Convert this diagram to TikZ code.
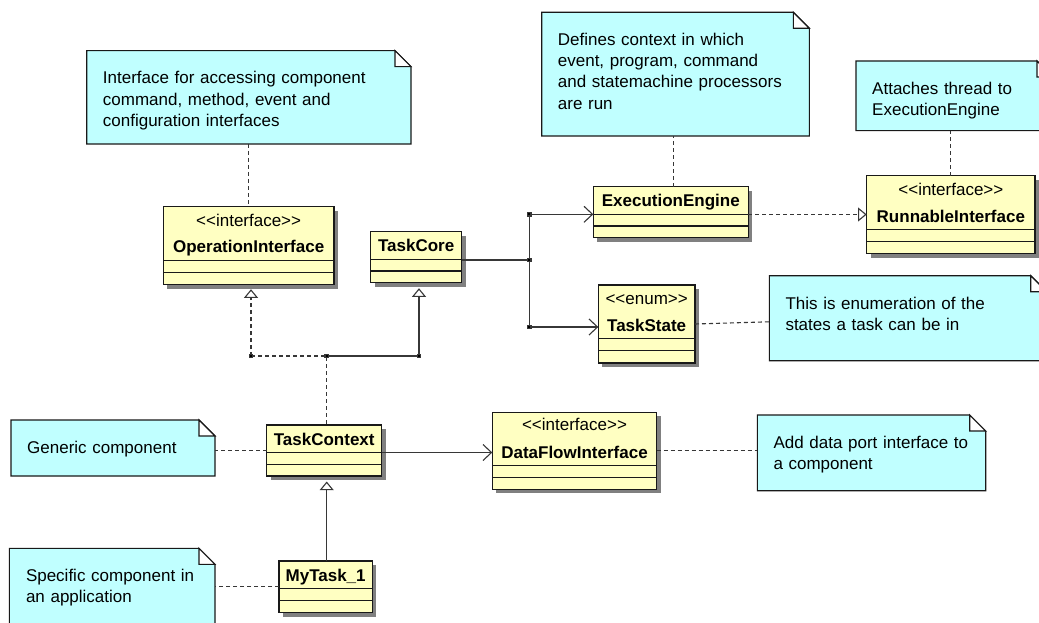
\documentclass[tikz,border=0pt]{standalone}
\usepackage{fontspec}
\setmainfont{Liberation Sans}
\usetikzlibrary{arrows.meta,calc,shadows}

\definecolor{classfill}{RGB}{255,255,194}
\definecolor{notefill}{RGB}{192,255,255}
\definecolor{shade}{RGB}{128,128,128}
\definecolor{ink}{RGB}{25,25,25}
\definecolor{wire}{RGB}{55,55,55}

\tikzset{
  umlclass/.style={draw=ink, line width=1.2pt, fill=classfill, inner sep=0pt,
    outer sep=0pt, anchor=north west,
    drop shadow={shadow xshift=4pt, shadow yshift=-4pt, fill=shade, opacity=1}},
  notebase/.style={inner sep=0pt, outer sep=0pt, anchor=north west},
  notetext/.style={anchor=base west, inner sep=0pt, text width=320pt, align=left,
    font=\fontsize{17}{21.2}\selectfont},
  stereo/.style={anchor=base, inner sep=0pt, font=\fontsize{17}{20}\selectfont},
  cname/.style={anchor=base, inner sep=0pt, font=\bfseries\fontsize{17}{20}\selectfont},
  wire/.style={draw=wire, line width=1.1pt},
  notelink/.style={wire, dash pattern=on 4pt off 3pt},
  gentip/.style={-{Triangle[open, length=8.7pt, width=14pt, fill=white]}},
  navtip/.style={-{Straight Barb[length=8.5pt, width=16pt]}},
}

% dog-eared note drawn over an empty frame node
\newcommand\dogear[1]{%
  \filldraw[fill=notefill, draw=ink, line width=1.1pt]
    (#1.north west) -- ($(#1.north east)+(-16,0)$) -- ($(#1.north east)+(0,16)$)
    -- (#1.south east) -- (#1.south west) -- cycle;
  \filldraw[fill=white, draw=ink, line width=1.1pt]
    ($(#1.north east)+(-16,0)$) -- ($(#1.north east)+(-16,16)$)
    -- ($(#1.north east)+(0,16)$) -- cycle;}

% attribute / operation compartment rules of a class box
\newcommand\compartments[3]{%
  \draw[ink, line width=1.2pt] ($(#1.north west)+(0,#2)$) -- ($(#1.north east)+(0,#2)$);
  \draw[ink, line width=1.2pt] ($(#1.north west)+(0,#3)$) -- ($(#1.north east)+(0,#3)$);}

\newcommand\stereotype[1]{<\kern0pt<#1>\kern0pt>}

\begin{document}
\begin{tikzpicture}[x=1pt, y=-1pt]
\path[use as bounding box] (0,0) rectangle (1039,623);
\clip (0,0) rectangle (1039,623);
\fill[white] (0,0) rectangle (1039,623);

% ---- notes ----
\node[notebase, minimum width=324.3pt, minimum height=93.3pt] (n1) at (86.7,50.7) {};
\dogear{n1}
\node[notetext] (n1t) at ($(n1.north west)+(16,33.3)$)
  {Interface for accessing component\\command, method, event and\\configuration interfaces};

\node[notebase, minimum width=267.6pt, minimum height=123.7pt] (n2) at (541.7,12.3) {};
\dogear{n2}
\node[notetext] (n2t) at ($(n2.north west)+(16,33.3)$)
  {Defines context in which\\event, program, command\\and statemachine processors\\are run};

\node[notebase, minimum width=197pt, minimum height=69.7pt] (n3) at (856,61) {};
\dogear{n3}
\node[notetext] (n3t) at ($(n3.north west)+(16,33.3)$)
  {Attaches thread to\\ExecutionEngine};

\node[notebase, minimum width=277.4pt, minimum height=85pt] (n4) at (769.3,275.7) {};
\dogear{n4}
\node[notetext] (n4t) at ($(n4.north west)+(16,33.3)$)
  {This is enumeration of the\\states a task can be in};

\node[notebase, minimum width=204pt, minimum height=56pt] (n5) at (11,420) {};
\dogear{n5}
\node[notetext] (n5t) at ($(n5.north west)+(16,33.3)$) {Generic component};

\node[notebase, minimum width=205.7pt, minimum height=100pt] (n6) at (9.3,548.3) {};
\dogear{n6}
\node[notetext] (n6t) at ($(n6.north west)+(16.5,33.3)$)
  {Specific component in\\an application};

\node[notebase, minimum width=228.4pt, minimum height=75.7pt] (n7) at (757.3,415) {};
\dogear{n7}
\node[notetext] (n7t) at ($(n7.north west)+(16,33.3)$)
  {Add data port interface to\\a component};

% ---- classes ----
\node[umlclass, minimum width=170.7pt, minimum height=78pt] (oi) at (163.3,206.7) {};
\compartments{oi}{53.8}{65.7}
\node[stereo] (oi-s) at ($(oi.north)+(0,19.3)$) {\stereotype{interface}};
\node[cname] (oi-n) at ($(oi.north)+(0,46)$) {OperationInterface};

\node[umlclass, minimum width=91pt, minimum height=51pt] (tc) at (370.7,231.7) {};
\compartments{tc}{27.5}{39.2}
\node[cname] (tc-n) at ($(tc.north)+(0,20)$) {TaskCore};

\node[umlclass, minimum width=155pt, minimum height=51pt] (ee) at (593.3,186.7) {};
\compartments{ee}{27.5}{39.2}
\node[cname] (ee-n) at ($(ee.north)+(0,20)$) {ExecutionEngine};

\node[umlclass, minimum width=168.3pt, minimum height=78pt] (ri) at (866.7,175.7) {};
\compartments{ri}{53.8}{65.7}
\node[stereo] (ri-s) at ($(ri.north)+(0,19.3)$) {\stereotype{interface}};
\node[cname] (ri-n) at ($(ri.north)+(0,46.5)$) {RunnableInterface};

\node[umlclass, minimum width=96.7pt, minimum height=78pt] (ts) at (598.3,285) {};
\compartments{ts}{53.8}{65.7}
\node[stereo] (ts-s) at ($(ts.north)+(0,19.3)$) {\stereotype{enum}};
\node[cname] (ts-n) at ($(ts.north)+(0,46)$) {TaskState};

\node[umlclass, minimum width=115pt, minimum height=51pt] (tcx) at (266.7,425) {};
\compartments{tcx}{27.5}{39.2}
\node[cname] (tcx-n) at ($(tcx.north)+(0,20)$) {TaskContext};

\node[umlclass, minimum width=164.4pt, minimum height=77pt] (df) at (492.3,412.3) {};
\compartments{df}{53.5}{65.4}
\node[stereo] (df-s) at ($(df.north)+(0,18.5)$) {\stereotype{interface}};
\node[cname] (df-n) at ($(df.north)+(0,46)$) {DataFlowInterface};

\node[umlclass, minimum width=93.3pt, minimum height=51.7pt] (mt) at (279,561) {};
\compartments{mt}{27.5}{39.3}
\node[cname] (mt-n) at ($(mt.north)+(0,20)$) {MyTask\_1};

% ---- note attachments ----
\draw[notelink] (n1.south -| oi.north) -- (oi.north);
\draw[notelink] ([xshift=2.5pt]ee.north) -- ([xshift=2.5pt]ee.north |- n2.south);
\draw[notelink] (ri.north) -- (ri.north |- n3.south);
\draw[notelink] (ts.east) -- ($(n4.west)+(0,3.6)$);
\draw[notelink] (tcx.west) -- (tcx.west -| n5.east);
\draw[notelink] (mt.west) -- (mt.west -| n6.east);
\draw[notelink] (df.east) -- (df.east -| n7.west);

% ---- junction points ----
\coordinate (jl) at (251,356);
\coordinate (jm) at (326.7,356);
\coordinate (jr) at (419,356);
\coordinate (jc) at (529.3,260);
\coordinate (je) at (529.3,214.3);
\coordinate (jt) at (529.3,327);

% ---- generalisation / realisation ----
\draw[notelink, gentip] (jl) -- ($(jl |- oi.south)+(0,4.5)$);
\draw[notelink] (jl) -- (jm) -- (jm |- tcx.north);
\draw[wire, gentip] (jm) -- (jr) -- ($(jr |- tc.south)+(0,5.5)$);
\draw[wire, gentip] (jm |- mt.north) -- ($(jm |- tcx.south)+(0,5.5)$);
\draw[notelink, gentip] ([yshift=-2.3pt]ee.east) -- ([yshift=-2.3pt]ee.east -| ri.west);

% ---- associations ----
\draw[wire] (tc.east |- jc) -- (jc);
\draw[wire] (je) -- (jt);
\draw[wire, navtip] (je) -- (je -| ee.west);
\draw[wire, navtip] (jt) -- (jt -| ts.west);
\draw[wire, navtip] ([yshift=-2pt]tcx.east) -- ([yshift=-2pt]tcx.east -| df.west);

% ---- junction dots ----
\foreach \p in {jl,jm,jr,jc,je,jt}
  \fill[wire] (\p) ++(-1.7,-1.7) rectangle ++(3.4,3.4);
\end{tikzpicture}
\end{document}
